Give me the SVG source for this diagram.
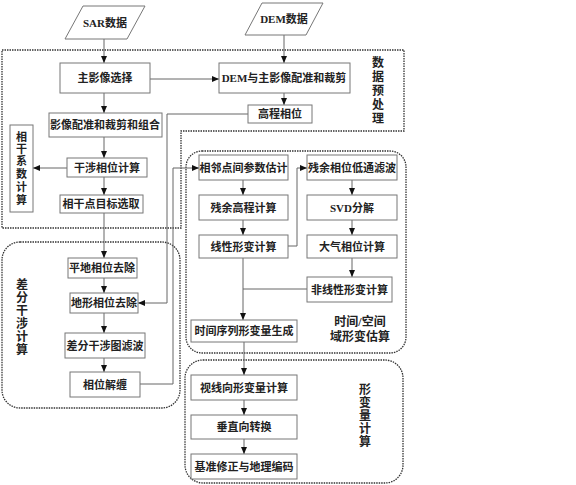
<svg xmlns="http://www.w3.org/2000/svg" width="576" height="485" viewBox="0 0 576 485">
<defs>
<marker id="ah" markerWidth="8" markerHeight="8" refX="7" refY="4" orient="auto" markerUnits="userSpaceOnUse">
<path d="M0,1 L7,4 L0,7 Z" fill="#111"/>
</marker>
<style>
.box{fill:#fff;stroke:#777;stroke-width:1}
.t{font-family:"Liberation Serif","Noto Sans CJK SC",serif;font-size:11px;font-weight:bold;fill:#222;text-anchor:middle;dominant-baseline:central}
.lbl{font-family:"Liberation Serif","Noto Sans CJK SC",serif;font-size:12px;font-weight:bold;fill:#222;text-anchor:middle;dominant-baseline:central}
.reg{fill:none;stroke:#333;stroke-width:1.3;stroke-dasharray:1.5 1}
.c{fill:none;stroke:#666;stroke-width:1}
.ca{fill:none;stroke:#666;stroke-width:1;marker-end:url(#ah)}
</style>
</defs>
<rect width="576" height="485" fill="#fff"/>
<g id="regions">
<polygon class="reg" points="2,50 404,50 404,131 181,131 181,228 2,228"/>
<rect class="reg" x="186" y="151" width="220" height="202" rx="16"/>
<rect class="reg" x="2" y="242" width="178" height="166" rx="18"/>
<rect class="reg" x="185" y="360" width="218" height="123" rx="18"/>
</g>
<g id="connectors">
<line class="ca" x1="104" y1="39" x2="104" y2="63"/>
<line class="ca" x1="284" y1="35" x2="284" y2="63"/>
<line class="ca" x1="150" y1="79" x2="219" y2="79"/>
<line class="ca" x1="284" y1="93" x2="284" y2="105"/>
<line class="ca" x1="104" y1="93" x2="104" y2="113"/>
<line class="ca" x1="104" y1="137" x2="104" y2="158"/>
<line class="ca" x1="67" y1="168" x2="33" y2="168"/>
<line class="ca" x1="104" y1="177" x2="104" y2="195"/>
<line class="ca" x1="104" y1="213" x2="104" y2="258"/>
<line class="ca" x1="104" y1="278" x2="104" y2="293"/>
<polyline class="ca" points="248,114 167,114 167,303 138,303"/>
<line class="ca" x1="104" y1="313" x2="104" y2="333"/>
<line class="ca" x1="104" y1="358" x2="104" y2="372"/>
<polyline class="ca" points="140,384 173,384 173,168 199,168"/>
<line class="ca" x1="243" y1="180" x2="243" y2="195"/>
<line class="ca" x1="243" y1="220" x2="243" y2="235"/>
<polyline class="ca" points="288,246 297,246 297,168 307,168"/>
<line class="ca" x1="352" y1="180" x2="352" y2="195"/>
<line class="ca" x1="352" y1="220" x2="352" y2="235"/>
<line class="ca" x1="352" y1="258" x2="352" y2="277"/>
<line class="ca" x1="243" y1="258" x2="243" y2="320"/>
<line class="c" x1="307" y1="289" x2="243" y2="289"/>
<line class="ca" x1="244" y1="342" x2="244" y2="375"/>
<line class="ca" x1="244" y1="400" x2="244" y2="415"/>
<line class="ca" x1="244" y1="439" x2="244" y2="454"/>
</g>
<g id="sar"><polygon class="box" points="83,6 145,6 127,39 65,39"/><text class="t" x="105" y="23">SAR数据</text></g>
<g id="dem"><polygon class="box" points="262,3 323,3 306,35 245,35"/><text class="t" x="284" y="19">DEM数据</text></g>
<g id="main"><rect class="box" x="60" y="63" width="90" height="30"/><text class="t" x="105" y="78">主影像选择</text></g>
<g id="demreg"><rect class="box" x="219" y="63" width="131" height="30"/><text class="t" x="284" y="78">DEM与主影像配准和裁剪</text></g>
<g id="height"><rect class="box" x="248" y="105" width="64" height="18"/><text class="t" x="280" y="114">高程相位</text></g>
<g id="coreg"><rect class="box" x="49" y="113" width="113" height="24"/><text class="t" x="105" y="125">影像配准和裁剪和组合</text></g>
<g id="ifg"><rect class="box" x="67" y="158" width="80" height="19"/><text class="t" x="107" y="168">干涉相位计算</text></g>
<g id="coh"><rect class="box" x="10" y="125" width="23" height="87"/>
<text class="t" x="21.5" y="137">相</text><text class="t" x="21.5" y="149">干</text><text class="t" x="21.5" y="161">系</text><text class="t" x="21.5" y="174">数</text><text class="t" x="21.5" y="187">计</text><text class="t" x="21.5" y="200">算</text></g>
<g id="cps"><rect class="box" x="60" y="195" width="83" height="18"/><text class="t" x="101" y="204">相干点目标选取</text></g>
<g id="flat"><rect class="box" x="68" y="258" width="69" height="20"/><text class="t" x="102" y="268">平地相位去除</text></g>
<g id="topo"><rect class="box" x="70" y="293" width="68" height="20"/><text class="t" x="104" y="303">地形相位去除</text></g>
<g id="filt"><rect class="box" x="65" y="333" width="80" height="25"/><text class="t" x="105" y="345.5">差分干涉图滤波</text></g>
<g id="unw"><rect class="box" x="70" y="372" width="70" height="25"/><text class="t" x="105" y="384.5">相位解缠</text></g>
<g id="nbr"><rect class="box" x="199" y="155" width="89" height="25"/><text class="t" x="243.5" y="167.5">相邻点间参数估计</text></g>
<g id="reh"><rect class="box" x="199" y="195" width="89" height="25"/><text class="t" x="243.5" y="207.5">残余高程计算</text></g>
<g id="lin"><rect class="box" x="199" y="235" width="89" height="23"/><text class="t" x="243.5" y="246.5">线性形变计算</text></g>
<g id="lpf"><rect class="box" x="307" y="155" width="90" height="25"/><text class="t" x="352" y="167.5">残余相位低通滤波</text></g>
<g id="svd"><rect class="box" x="307" y="195" width="90" height="25"/><text class="t" x="352" y="207.5">SVD分解</text></g>
<g id="atm"><rect class="box" x="307" y="235" width="90" height="23"/><text class="t" x="352" y="246.5">大气相位计算</text></g>
<g id="nonlin"><rect class="box" x="307" y="277" width="85" height="25"/><text class="t" x="349.5" y="289.5">非线性形变计算</text></g>
<g id="ts"><rect class="box" x="191" y="320" width="106" height="22"/><text class="t" x="244" y="331">时间序列形变量生成</text></g>
<g id="los"><rect class="box" x="191" y="375" width="106" height="25"/><text class="t" x="244" y="387.5">视线向形变量计算</text></g>
<g id="vert"><rect class="box" x="191" y="415" width="106" height="24"/><text class="t" x="244" y="427">垂直向转换</text></g>
<g id="geo"><rect class="box" x="191" y="454" width="106" height="25"/><text class="t" x="244" y="466.5">基准修正与地理编码</text></g>
<g id="labels">
<text class="lbl" x="378" y="63">数</text><text class="lbl" x="378" y="77">据</text><text class="lbl" x="378" y="91">预</text><text class="lbl" x="378" y="105">处</text><text class="lbl" x="378" y="119">理</text>
<text class="lbl" x="22" y="285">差</text><text class="lbl" x="22" y="298">分</text><text class="lbl" x="22" y="311">干</text><text class="lbl" x="22" y="324">涉</text><text class="lbl" x="22" y="337">计</text><text class="lbl" x="22" y="350">算</text>
<text class="lbl" x="365" y="390">形</text><text class="lbl" x="365" y="403">变</text><text class="lbl" x="365" y="416">量</text><text class="lbl" x="365" y="429">计</text><text class="lbl" x="365" y="442">算</text>
<text class="lbl" x="360" y="322">时间/空间</text>
<text class="lbl" x="360" y="337">域形变估算</text>
</g>
</svg>
